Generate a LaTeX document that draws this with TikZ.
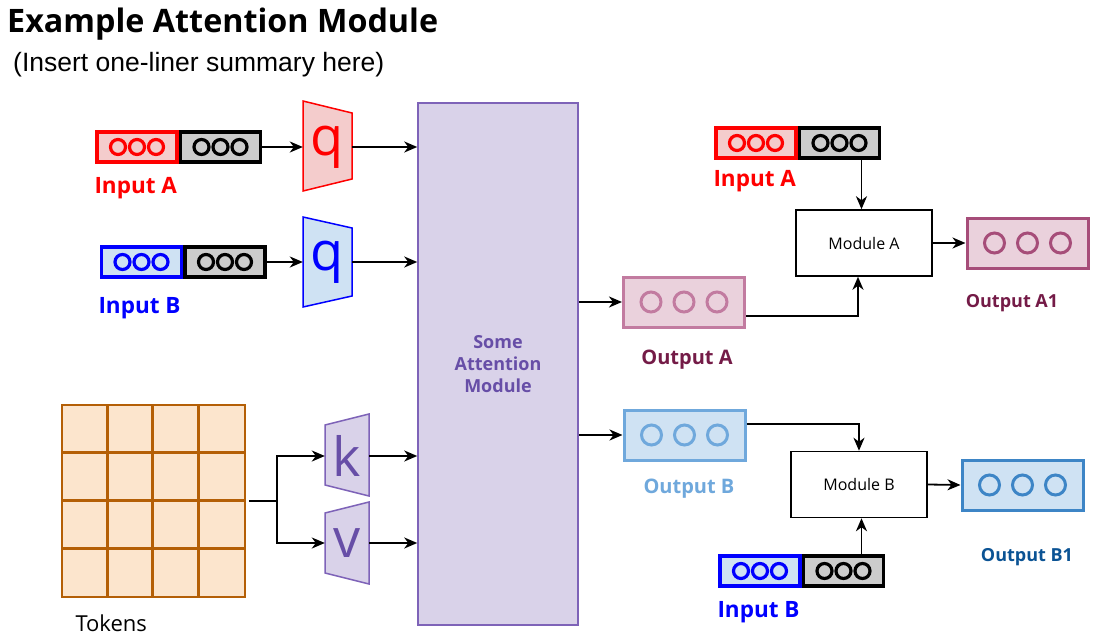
\documentclass[tikz,border=0pt]{standalone}
\usepackage{fontspec}
\setmainfont{Open Sans}
\newfontfamily\arialfont{Liberation Sans}
\usepackage{xcolor}
\usetikzlibrary{positioning, arrows.meta, calc}

\definecolor{inred}{HTML}{FF0000}
\definecolor{inredfill}{HTML}{F4CCCC}
\definecolor{inblue}{HTML}{0000FF}
\definecolor{inbluefill}{HTML}{CFE2F3}
\definecolor{greyfill}{HTML}{CCCCCC}
\definecolor{attfill}{HTML}{D9D2E9}
\definecolor{attdraw}{HTML}{7E63B8}
\definecolor{atttext}{HTML}{674EA7}
\definecolor{tokfill}{HTML}{FCE5CD}
\definecolor{tokdraw}{HTML}{B45F06}
\definecolor{outafill}{HTML}{EAD1DC}
\definecolor{outadraw}{HTML}{C27BA0}
\definecolor{outaonedraw}{HTML}{A64D79}
\definecolor{outatext}{HTML}{741B47}
\definecolor{outbdraw}{HTML}{6FA8DC}
\definecolor{outbonedraw}{HTML}{3D85C6}
\definecolor{outbonetext}{HTML}{0B5394}

% three rings inside a box
\newcommand{\ringrow}[5]{%
  \foreach \k in {-1,0,1}
    \draw[#4, line width=#5] ($(#1)+(\k*#2,0)$) circle (#3);}

\tikzset{
  vecpart/.style={draw, line width=3.5pt, minimum width=80pt, minimum height=30pt, inner sep=0pt},
  outbox/.style={draw, line width=3pt, minimum width=121pt, minimum height=50pt, inner sep=0pt},
  modbox/.style={draw, line width=1.5pt, minimum width=136pt, minimum height=66pt, font=\fontsize{16}{18}\selectfont},
  lbl/.style={font=\fontsize{22.5}{26}\selectfont\bfseries},
  smalllbl/.style={font=\fontsize{18}{21}\selectfont\bfseries},
  proj/.style={inner sep=0pt, font=\fontsize{54}{54}\selectfont},
  arr/.style={-{Stealth[length=13pt,width=11pt,inset=4pt]}, line width=1.8pt},
  line/.style={line width=1.8pt}
}

\begin{document}
\begin{tikzpicture}[x=1pt, y=-1pt]
    \useasboundingbox (0,0) rectangle (1096,642);

    % title
    \node[anchor=west, inner sep=0pt, font=\fontsize{32.3}{34}\selectfont\bfseries] (title) at (7,24) {Example Attention Module};
    \node[anchor=west, inner sep=0pt, font=\arialfont\fontsize{26.5}{28}\selectfont] (subtitle) at (13,65) {(Insert one-liner summary here)};

    % inputs on the left
    \node[vecpart, draw=inred, fill=inredfill] (inAr) at (137,147) {};
    \node[vecpart, fill=greyfill, right=0pt of inAr] (inAk) {};
    \ringrow{inAr}{19}{7.5}{inred}{3.2pt}
    \ringrow{inAk}{19}{7.5}{black}{3.2pt}
    \node[lbl, text=inred, anchor=west] (labA) at (91,188) {Input A};

    \node[vecpart, draw=inblue, fill=inbluefill] (inBb) at (141.5,262) {};
    \node[vecpart, fill=greyfill, right=0pt of inBb] (inBk) {};
    \ringrow{inBb}{19}{7.5}{inblue}{3.2pt}
    \ringrow{inBk}{19}{7.5}{black}{3.2pt}
    \node[lbl, text=inblue, anchor=west] (labB) at (95,308) {Input B};

    % projections
    \draw[draw=inred, fill=inredfill, line width=1.5pt] (303,101) -- (352,113) -- (352,179) -- (303,191) -- cycle;
    \node[proj, text=inred, minimum width=49pt, minimum height=66pt] (qa) at (327.5,147) {q};
    \draw[draw=inblue, fill=inbluefill, line width=1.5pt] (303,217) -- (352,228) -- (352,296) -- (303,307) -- cycle;
    \node[proj, text=inblue, minimum width=49pt, minimum height=68pt] (qb) at (327.5,262) {q};
    \draw[draw=attdraw, fill=attfill, line width=1.5pt] (325,425) -- (369,414) -- (369,496) -- (325,485) -- cycle;
    \node[proj, text=atttext, minimum width=44pt, minimum height=82pt] (kp) at (347,456) {k};
    \draw[draw=attdraw, fill=attfill, line width=1.5pt] (325,513) -- (369,502) -- (369,584) -- (325,573) -- cycle;
    \node[proj, text=atttext, minimum width=44pt, minimum height=82pt] (vp) at (347,543) {v};

    % tokens
    \node[draw=tokdraw, fill=tokfill, line width=1.5pt, minimum width=183pt, minimum height=192pt, inner sep=0pt] (tok) at (153.5,501) {};
    \foreach \i in {1,2,3} {
      \draw[tokdraw, line width=3pt] ($(tok.north west)+(\i*45.75,0)$) -- ($(tok.south west)+(\i*45.75,0)$);
      \draw[tokdraw, line width=3pt] ($(tok.north west)+(0,\i*48)$) -- ($(tok.north east)+(0,\i*48)$);
    }
    \node[font=\fontsize{22}{24}\selectfont, anchor=west] (toklab) at (72,623) {Tokens};

    % attention
    \node[draw=attdraw, fill=attfill, line width=1.5pt, minimum width=160pt, minimum height=522pt, align=center, text=atttext, font=\fontsize{18}{22}\selectfont\bfseries] (att) at (498,364) {Some\\Attention\\Module};

    \draw[arr] (inAk.east) -- (qa.west);
    \draw[arr] (inBk.east) -- (qb.west);
    \draw[arr] (qa.east) -- (qa.east -| att.west);
    \draw[arr] (qb.east) -- (qb.east -| att.west);
    \coordinate (split) at (277,501);
    \draw[line] ([xshift=3pt]tok.east) -- (split);
    \draw[arr] (split) |- (kp.west);
    \draw[arr] (split) |- (vp.west);
    \draw[arr] (kp.east) -- (kp.east -| att.west);
    \draw[arr] (vp.east) -- (vp.east -| att.west);

    % outputs
    \node[outbox, draw=outadraw, fill=outafill] (outa) at (684,302) {};
    \ringrow{outa}{33}{10}{outadraw}{3pt}
    \node[lbl, text=outatext, font=\fontsize{20}{24}\selectfont\bfseries] (outalab) at (687,360) {Output A};
    \node[outbox, draw=outbdraw, fill=inbluefill] (outb) at (684.5,435) {};
    \ringrow{outb}{33}{10}{outbdraw}{3pt}
    \node[lbl, text=outbdraw, font=\fontsize{20}{24}\selectfont\bfseries] (outblab) at (689,489) {Output B};
    \draw[arr] (att.east |- outa.west) -- (outa.west);
    \draw[arr] (att.east |- outb.west) -- (outb.west);

    % module A
    \node[modbox] (moda) at (864,243) {Module A};
    \node[vecpart, draw=inred, fill=inredfill] (inA2r) at (756,143) {};
    \node[vecpart, fill=greyfill, right=0pt of inA2r] (inA2k) {};
    \ringrow{inA2r}{19}{7.5}{inred}{3.2pt}
    \ringrow{inA2k}{19}{7.5}{black}{3.2pt}
    \node[lbl, text=inred, anchor=west] (labA2) at (710,181) {Input A};
    \node[outbox, draw=outaonedraw, fill=outafill] (outa1) at (1027.5,243) {};
    \ringrow{outa1}{33}{10}{outaonedraw}{3pt}
    \node[smalllbl, text=outatext] (outa1lab) at (1012,303) {Output A1};
    \draw[arr] ([xshift=22pt]inA2k.south) -- ([xshift=22pt]inA2k.south |- moda.north);
    \draw[arr] ([yshift=-14pt]outa.east) -| ([xshift=-6pt]moda.south);
    \draw[arr] (moda.east) -- (outa1.west);

    % module B
    \node[modbox] (modb) at (859,484.5) {Module B};
    \node[vecpart, draw=inblue, fill=inbluefill] (inB2b) at (760,571) {};
    \node[vecpart, fill=greyfill, right=0pt of inB2b] (inB2k) {};
    \ringrow{inB2b}{19}{7.5}{inblue}{3.2pt}
    \ringrow{inB2k}{19}{7.5}{black}{3.2pt}
    \node[lbl, text=inblue, anchor=west] (labB2) at (714,612) {Input B};
    \node[outbox, draw=outbonedraw, fill=inbluefill] (outb1) at (1022.5,485) {};
    \ringrow{outb1}{33}{10}{outbonedraw}{3pt}
    \node[smalllbl, text=outbonetext] (outb1lab) at (1027,557) {Output B1};
    \draw[arr] ([yshift=11pt]outb.east) -| (modb.north);
    \draw[arr] ([xshift=18pt]inB2k.north) -- ([xshift=18pt]inB2k.north |- modb.south);
    \draw[arr] (modb.east) -- (outb1.west);

\end{tikzpicture}
\end{document}
